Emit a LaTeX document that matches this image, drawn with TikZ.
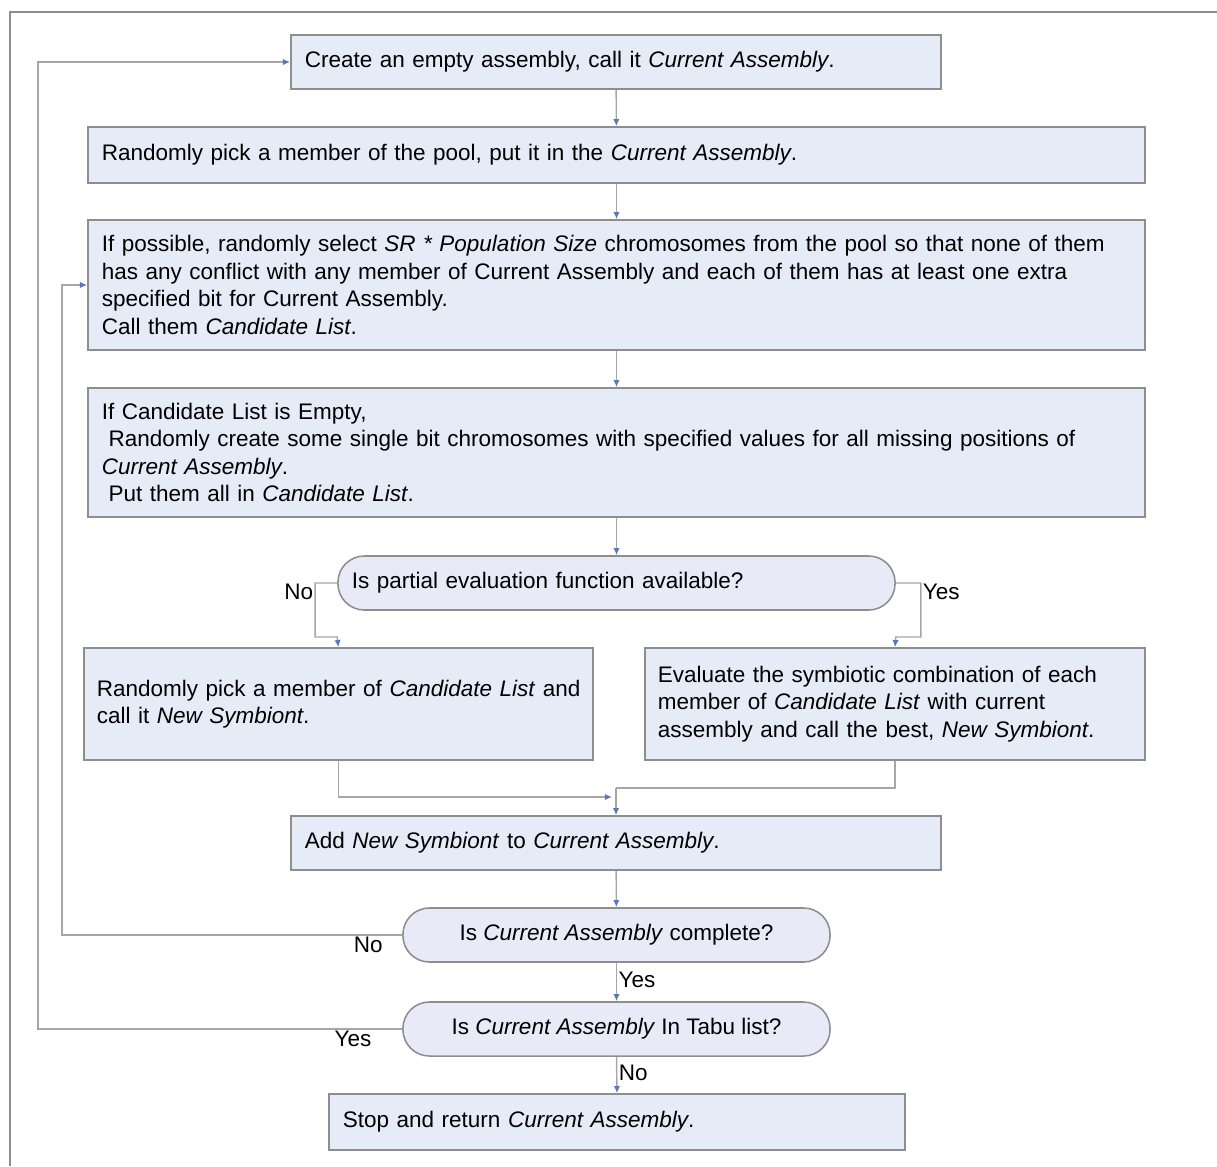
\documentclass[tikz,border=0pt]{standalone}
\usepackage{fontspec}
\setmainfont{Liberation Sans}
\usepackage{tikz}
\usetikzlibrary{arrows.meta,positioning}
\definecolor{boxfill}{HTML}{E5EBF7}
\definecolor{decfill}{HTML}{E8EAF7}
\definecolor{boxline}{HTML}{8E8E8E}
\definecolor{flowgray}{HTML}{A6A6A6}
\definecolor{tipblue}{HTML}{5A78B4}
\tikzstyle{procbox}=[draw=boxline, fill=boxfill, line width=1.1pt, rectangle, inner xsep=0.35cm, align=left, font=\fontsize{16}{19.6}\selectfont]
\tikzstyle{decbox}=[draw=boxline, fill=decfill, line width=1.1pt, rectangle, rounded corners=0.66cm, inner xsep=0.35cm, font=\fontsize{16}{19.6}\selectfont]
\tikzstyle{flow}=[draw=flowgray, line width=1pt, -{Latex[length=1.8mm,width=1.6mm,color=tipblue]}]
\tikzstyle{branch}=[inner sep=1pt, font=\fontsize{16}{18}\selectfont]

\begin{document}
\begin{tikzpicture}[x=0.025cm, y=-0.025cm]
    \useasboundingbox (0,0) rectangle (1217,1166);
    % frame
    \draw[boxline, line width=2pt] (1217,12) -- (10,12) -- (10,1166);

    % process boxes
    \node[procbox, minimum width=16.25cm, minimum height=1.35cm, text width=15.55cm] (create) at (616,62)
        {Create an empty assembly, call it \textit{Current Assembly}.};
    \node[procbox, minimum width=26.425cm, minimum height=1.4cm, text width=25.725cm] (pick) at (616.5,155)
        {Randomly pick a member of the pool, put it in the \textit{Current Assembly}.};
    \node[procbox, minimum width=26.425cm, minimum height=3.25cm, text width=25.725cm] (select) at (616.5,285)
        {If possible, randomly select \textit{SR * Population Size} chromosomes from the pool so that none of them\\
         has any conflict with any member of Current Assembly and each of them has at least one extra\\
         specified bit for Current Assembly.\\
         Call them \textit{Candidate List}.};
    \node[procbox, minimum width=26.425cm, minimum height=3.225cm, text width=25.725cm] (empty) at (616.5,452.5)
        {If Candidate List is Empty,\\
         \hspace*{0.3em}Randomly create some single bit chromosomes with specified values for all missing positions of\\
         \textit{Current Assembly}.\\
         \hspace*{0.3em}Put them all in \textit{Candidate List}.};

    % partial evaluation test
    \node[decbox, minimum width=13.925cm, minimum height=1.35cm, text width=13.225cm, align=left] (partial) at (616.5,583)
        {Is partial evaluation function available?};
    \node[procbox, minimum width=12.725cm, minimum height=2.8cm, text width=12.075cm, inner xsep=0.325cm] (randpick) at (338.5,704)
        {\mbox{Randomly pick a member of \textit{Candidate List} and}\\
         call it \textit{New Symbiont}.};
    \node[procbox, minimum width=12.5cm, minimum height=2.8cm, text width=11.85cm, inner xsep=0.325cm] (evaluate) at (895,704)
        {Evaluate the symbiotic combination of each\\
         member of \textit{Candidate List} with current\\
         assembly and call the best, \textit{New Symbiont}.};

    \node[procbox, minimum width=16.25cm, minimum height=1.35cm, text width=15.55cm] (add) at (616,843)
        {Add \textit{New Symbiont} to \textit{Current Assembly}.};

    % final tests
    \node[decbox, minimum width=10.675cm, minimum height=1.35cm, align=center] (complete) at (616.5,935)
        {Is \textit{Current Assembly} complete?};
    \node[decbox, minimum width=10.675cm, minimum height=1.35cm, align=center] (tabu) at (616.5,1029)
        {Is \textit{Current Assembly} In Tabu list?};
    \node[procbox, minimum width=14.4cm, minimum height=1.4cm, text width=13.7cm] (stop) at (617,1122)
        {Stop and return \textit{Current Assembly}.};

    % helper points
    \coordinate (mrgL) at (612,797);
    \coordinate (mrgR) at (616,788);

    % main line
    \draw[flow] (create) -- (pick);
    \draw[flow] (pick) -- (select);
    \draw[flow] (select) -- (empty);
    \draw[flow] (empty) -- (partial);
    \draw[flow] (add) -- (complete);
    \draw[flow] (complete) -- node[branch, right, pos=0.45] {Yes} (tabu);
    \draw[flow] (tabu.south) -- node[branch, right, pos=0.45] {No} (stop.north);

    % branches of partial evaluation
    \draw[flow] (partial.west) -- ++(-22,0) node[branch, left, pos=1, yshift=-0.22cm] {No} |- ++(22,54) -- (randpick.north);
    \draw[flow] (partial.east) -- ++(25,0) node[branch, right, pos=1, yshift=-0.22cm] {Yes} |- ++(-25,54) -- (evaluate.north);
    \draw[flow] (randpick.south) |- (mrgL);
    \draw[draw=flowgray, line width=1pt] (evaluate.south) |- (mrgR);
    \draw[flow] (mrgR) -- (add.north);

    % loops back
    \draw[flow] (complete.west) -- node[branch, below, pos=0.1] {No} (62,935) |- (select.west);
    \draw[flow] (tabu.west) -- node[branch, below, pos=0.135] {Yes} (38,1029) |- (create.west);
\end{tikzpicture}
\end{document}
